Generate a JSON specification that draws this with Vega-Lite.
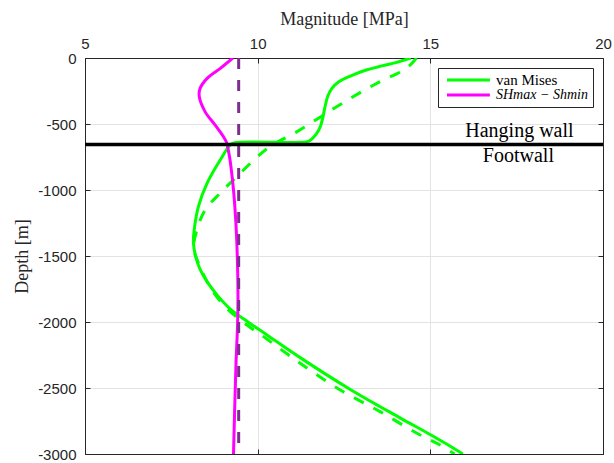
{
  "$schema": "https://vega.github.io/schema/vega-lite/v6.json",
  "width": 518,
  "height": 396,
  "autosize": {"type": "none"},
  "padding": {"left": 85, "top": 58, "right": 11, "bottom": 9},
  "background": "white",
  "config": {
    "view": {"stroke": null},
    "font": "Liberation Sans",
    "axis": {
      "domainColor": "#262626",
      "domainWidth": 1,
      "tickColor": "#262626",
      "tickWidth": 1,
      "tickSize": -5,
      "labelColor": "#262626",
      "labelFont": "Liberation Sans",
      "labelFontSize": 15,
      "titleFont": "Liberation Serif",
      "titleFontSize": 18,
      "titleFontWeight": "normal",
      "titleColor": "#262626",
      "gridColor": "#e3e3e3",
      "gridWidth": 1
    }
  },
  "datasets": {
    "vonMises": [
      {"mpa": 14.43, "depth": 0},
      {"mpa": 14.0, "depth": -35},
      {"mpa": 13.6, "depth": -60},
      {"mpa": 13.1, "depth": -95},
      {"mpa": 12.7, "depth": -135},
      {"mpa": 12.35, "depth": -180},
      {"mpa": 12.15, "depth": -230},
      {"mpa": 12.03, "depth": -290},
      {"mpa": 11.95, "depth": -370},
      {"mpa": 11.88, "depth": -460},
      {"mpa": 11.8, "depth": -530},
      {"mpa": 11.7, "depth": -575},
      {"mpa": 11.58, "depth": -610},
      {"mpa": 11.46, "depth": -632},
      {"mpa": 11.3, "depth": -639},
      {"mpa": 9.35, "depth": -641},
      {"mpa": 9.22, "depth": -655},
      {"mpa": 8.91, "depth": -775},
      {"mpa": 8.53, "depth": -952},
      {"mpa": 8.28, "depth": -1129},
      {"mpa": 8.16, "depth": -1306},
      {"mpa": 8.14, "depth": -1400},
      {"mpa": 8.2, "depth": -1500},
      {"mpa": 8.33, "depth": -1600},
      {"mpa": 8.55, "depth": -1700},
      {"mpa": 8.84, "depth": -1800},
      {"mpa": 9.2, "depth": -1900},
      {"mpa": 9.72, "depth": -2000},
      {"mpa": 10.28, "depth": -2100},
      {"mpa": 11.22, "depth": -2268},
      {"mpa": 12.67, "depth": -2509},
      {"mpa": 14.11, "depth": -2724},
      {"mpa": 14.98, "depth": -2850},
      {"mpa": 15.65, "depth": -2952},
      {"mpa": 15.94, "depth": -3000}
    ],
    "vonMisesAlt": [
      {"mpa": 14.6, "depth": 0},
      {"mpa": 14.3, "depth": -80},
      {"mpa": 13.53, "depth": -181},
      {"mpa": 12.76, "depth": -294},
      {"mpa": 11.9, "depth": -433},
      {"mpa": 11.13, "depth": -560},
      {"mpa": 10.45, "depth": -655},
      {"mpa": 10.07, "depth": -730},
      {"mpa": 9.49, "depth": -874},
      {"mpa": 8.91, "depth": -1025},
      {"mpa": 8.48, "depth": -1151},
      {"mpa": 8.24, "depth": -1302},
      {"mpa": 8.15, "depth": -1440},
      {"mpa": 8.33, "depth": -1580},
      {"mpa": 8.67, "depth": -1756},
      {"mpa": 9.1, "depth": -1895},
      {"mpa": 9.68, "depth": -2021},
      {"mpa": 10.16, "depth": -2109},
      {"mpa": 11.22, "depth": -2311},
      {"mpa": 12.38, "depth": -2513},
      {"mpa": 13.53, "depth": -2677},
      {"mpa": 14.6, "depth": -2841},
      {"mpa": 15.27, "depth": -2930},
      {"mpa": 15.7, "depth": -3000}
    ],
    "diffStress": [
      {"mpa": 9.28, "depth": 0},
      {"mpa": 8.91, "depth": -80},
      {"mpa": 8.53, "depth": -156},
      {"mpa": 8.33, "depth": -232},
      {"mpa": 8.31, "depth": -294},
      {"mpa": 8.48, "depth": -408},
      {"mpa": 8.77, "depth": -509},
      {"mpa": 9.01, "depth": -597},
      {"mpa": 9.1, "depth": -640},
      {"mpa": 9.15, "depth": -698},
      {"mpa": 9.2, "depth": -773},
      {"mpa": 9.3, "depth": -1000},
      {"mpa": 9.37, "depth": -1252},
      {"mpa": 9.41, "depth": -1504},
      {"mpa": 9.43, "depth": -1800},
      {"mpa": 9.42, "depth": -2000},
      {"mpa": 9.37, "depth": -2337},
      {"mpa": 9.3, "depth": -3000}
    ]
  },
  "layer": [
    {
      "data": {"name": "vonMises"},
      "transform": [{"calculate": "'van Mises'", "as": "series"}],
      "mark": {"type": "line", "strokeWidth": 3, "interpolate": "catmull-rom", "clip": true},
      "encoding": {
        "x": {
          "field": "mpa", "type": "quantitative",
          "scale": {"domain": [5, 20], "nice": false, "zero": false},
          "axis": {"orient": "top", "title": "Magnitude [MPa]", "values": [5, 10, 15, 20], "grid": true, "labelPadding": 12, "titlePadding": 8, "labelFlush": false}
        },
        "y": {
          "field": "depth", "type": "quantitative",
          "scale": {"domain": [-3000, 0], "nice": false, "zero": false},
          "axis": {"orient": "left", "title": "Depth [m]", "values": [0, -500, -1000, -1500, -2000, -2500, -3000], "grid": true, "labelExpr": "'' + datum.value", "labelPadding": 14, "titlePadding": 6}
        },
        "order": {"field": "depth", "sort": "descending"},
        "color": {
          "field": "series", "type": "nominal",
          "scale": {"domain": ["van Mises", "SHmax − Shmin"], "range": ["#00ff00", "#ff00ff"]},
          "legend": {
            "orient": "top-right",
            "offset": 10,
            "title": null,
            "strokeColor": "#262626",
            "fillColor": "white",
            "padding": 5,
            "symbolType": "M-1,0H13.3",
            "symbolSize": 36,
            "symbolStrokeWidth": 3,
            "symbolFillColor": "transparent",
            "labelOffset": 39,
            "labelFont": "Liberation Serif",
            "labelFontSize": 15,
            "labelColor": "black",
            "rowPadding": 0,
            "encode": {
              "labels": {"update": {
                "fontStyle": {"signal": "datum.label == 'van Mises' ? 'normal' : 'italic'"},
                "fontSize": {"signal": "datum.label == 'van Mises' ? 15 : 14"}
              }}
            }
          }
        }
      }
    },
    {
      "data": {"name": "vonMisesAlt"},
      "mark": {"type": "line", "strokeWidth": 3, "strokeDash": [11, 11], "color": "#00ff00", "interpolate": "catmull-rom", "clip": true},
      "encoding": {
        "x": {"field": "mpa", "type": "quantitative", "axis": {"orient": "bottom", "title": null, "labels": false, "grid": false, "values": [5, 10, 15, 20]}},
        "y": {"field": "depth", "type": "quantitative", "axis": {"orient": "right", "title": null, "labels": false, "grid": false, "values": [0, -500, -1000, -1500, -2000, -2500, -3000]}},
        "order": {"field": "depth", "sort": "descending"}
      }
    },
    {
      "data": {"name": "diffStress"},
      "transform": [{"calculate": "'SHmax − Shmin'", "as": "series"}],
      "mark": {"type": "line", "strokeWidth": 3, "interpolate": "catmull-rom", "clip": true},
      "encoding": {
        "x": {"field": "mpa", "type": "quantitative", "axis": null},
        "y": {"field": "depth", "type": "quantitative", "axis": null},
        "order": {"field": "depth", "sort": "descending"},
        "color": {"field": "series", "type": "nominal", "legend": null}
      }
    },
    {
      "data": {"values": [{"mpa": 9.45}]},
      "mark": {"type": "rule", "strokeWidth": 3, "strokeDash": [11, 11], "color": "#7e2f8e"},
      "encoding": {
        "x": {"field": "mpa", "type": "quantitative", "axis": null}
      }
    },
    {
      "data": {"values": [{"depth": -655}]},
      "mark": {"type": "rule", "strokeWidth": 3.5, "color": "black"},
      "encoding": {
        "y": {"field": "depth", "type": "quantitative", "axis": null}
      }
    },
    {
      "data": {"values": [
        {"label": "Hanging wall", "mpa": 17.58, "depth": -600},
        {"label": "Footwall", "mpa": 17.55, "depth": -789}
      ]},
      "mark": {"type": "text", "font": "Liberation Serif", "fontSize": 20, "align": "center", "baseline": "alphabetic", "color": "black"},
      "encoding": {
        "x": {"field": "mpa", "type": "quantitative", "axis": null},
        "y": {"field": "depth", "type": "quantitative", "axis": null},
        "text": {"field": "label"}
      }
    }
  ],
  "resolve": {"axis": {"x": "independent", "y": "independent"}}
}
